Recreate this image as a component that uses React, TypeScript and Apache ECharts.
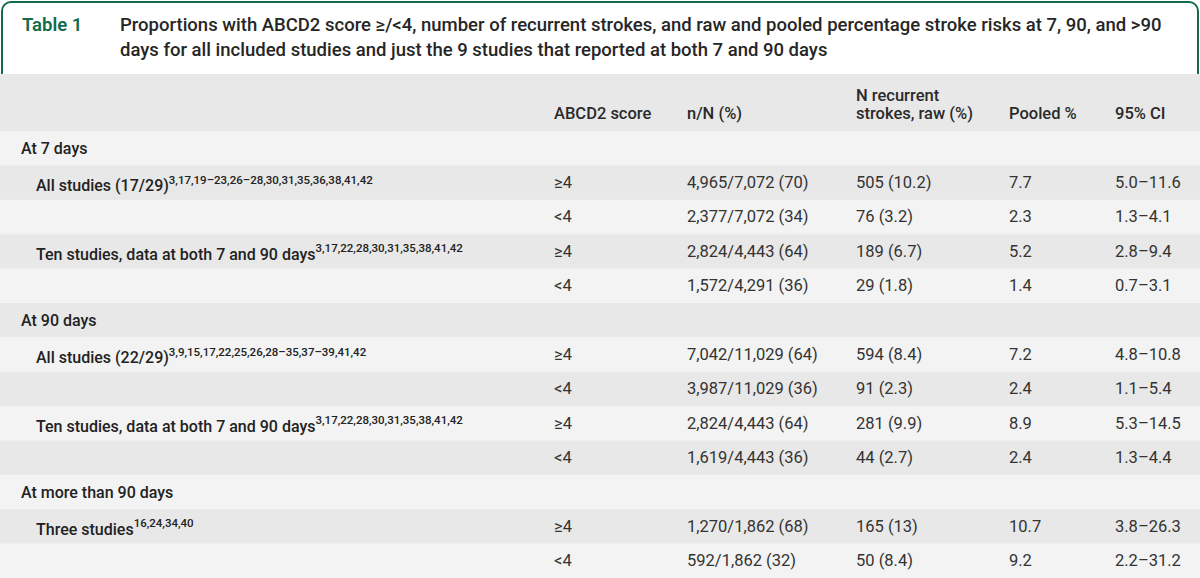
import React, { useEffect, useRef } from "react";
import * as echarts from "echarts";

const tableNumber = "Table 1";
const titleLines = [
  "Proportions with ABCD2 score ≥/<4, number of recurrent strokes, and raw and pooled percentage stroke risks at 7, 90, and >90",
  "days for all included studies and just the 9 studies that reported at both 7 and 90 days",
];
const headerCols = ["ABCD2 score", "n/N (%)", "N recurrent\nstrokes, raw (%)", "Pooled %", "95% CI"];
const sectionTitles = ["At 7 days", "At 90 days", "At more than 90 days"];
const groupLabels = [
  "All studies (17/29)",
  "Ten studies, data at both 7 and 90 days",
  "All studies (22/29)",
  "Ten studies, data at both 7 and 90 days",
  "Three studies",
];
const groupRefs = [
  "3,17,19–23,26–28,30,31,35,36,38,41,42",
  "3,17,22,28,30,31,35,38,41,42",
  "3,9,15,17,22,25,26,28–35,37–39,41,42",
  "3,17,22,28,30,31,35,38,41,42",
  "16,24,34,40",
];
const groupSection = [0, 0, 1, 1, 2];
const scores = ["≥4", "<4", "≥4", "<4", "≥4", "<4", "≥4", "<4", "≥4", "<4"];
const nN = [
  "4,965/7,072 (70)", "2,377/7,072 (34)", "2,824/4,443 (64)", "1,572/4,291 (36)",
  "7,042/11,029 (64)", "3,987/11,029 (36)", "2,824/4,443 (64)", "1,619/4,443 (36)",
  "1,270/1,862 (68)", "592/1,862 (32)",
];
const nRecurrent = [
  "505 (10.2)", "76 (3.2)", "189 (6.7)", "29 (1.8)", "594 (8.4)",
  "91 (2.3)", "281 (9.9)", "44 (2.7)", "165 (13)", "50 (8.4)",
];
const pooled = ["7.7", "2.3", "5.2", "1.4", "7.2", "2.4", "8.9", "2.4", "10.7", "9.2"];
const ci95 = [
  "5.0–11.6", "1.3–4.1", "2.8–9.4", "0.7–3.1", "4.8–10.8",
  "1.1–5.4", "5.3–14.5", "1.3–4.4", "3.8–26.3", "2.2–31.2",
];

const GREEN = "#136b4b";
const DARK = "#e8e8e8";
const LIGHT = "#f2f3f2";
const FONT = "Roboto";
const colX = [554, 687, 856, 1009, 1115];

const txt = (x: number, y: number, text: string, font: string, fill: string) => ({
  type: "text", x, y,
  style: { text, fill, font, align: "left", verticalAlign: "middle", textAlign: "left", textVerticalAlign: "middle" },
});

function buildElements() {
  const els: any[] = [];
  els.push({
    type: "rect",
    shape: { x: 2, y: 2, width: 1196, height: 90, r: [9, 9, 0, 0] },
    style: { fill: "#ffffff", stroke: GREEN, lineWidth: 2 },
  });
  els.push(txt(22, 25, tableNumber, `600 18.5px ${FONT}`, GREEN));
  titleLines.forEach((t, i) => {
    els.push(txt(120, 25 + i * 25, t, `500 18.5px ${FONT}`, "#262626"));
  });
  els.push({ type: "rect", shape: { x: 0, y: 74, width: 1200, height: 57 }, style: { fill: DARK } });
  headerCols.forEach((h, i) => {
    const lines = h.split("\n");
    lines.forEach((ln, j) => {
      const y = lines.length === 1 ? 113 : 95 + j * 18;
      els.push(txt(colX[i], y, ln, `500 16.5px ${FONT}`, "#2a2a2a"));
    });
  });

  type Row = { kind: "section"; s: number } | { kind: "data"; g: number; k: number };
  const rows: Row[] = [];
  let lastSection = -1;
  groupLabels.forEach((_, g) => {
    if (groupSection[g] !== lastSection) {
      lastSection = groupSection[g];
      rows.push({ kind: "section", s: lastSection });
    }
    rows.push({ kind: "data", g, k: 0 });
    rows.push({ kind: "data", g, k: 1 });
  });
  const top = 131;
  const rh = (578 - top) / rows.length;
  rows.forEach((r, i) => {
    const y0 = top + i * rh;
    const cy = y0 + rh / 2;
    els.push({ type: "rect", shape: { x: 0, y: y0, width: 1200, height: rh + 0.5 }, style: { fill: i % 2 === 0 ? LIGHT : DARK } });
    if (r.kind === "section") {
      els.push(txt(21, cy, sectionTitles[r.s], `500 16px ${FONT}`, "#222"));
    } else {
      const idx = r.g * 2 + r.k;
      if (r.k === 0) {
        els.push({
          type: "text", x: 36, y: cy + 1,
          style: {
            text: `{m|${groupLabels[r.g]}}{s|${groupRefs[r.g]}}`,
            fill: "#222", font: `500 16px ${FONT}`,
            align: "left", verticalAlign: "middle", textAlign: "left", textVerticalAlign: "middle",
            rich: {
              m: { fontFamily: FONT, fontSize: 16, fontWeight: 500, fill: "#222", lineHeight: 20, verticalAlign: "bottom" },
              s: { fontFamily: FONT, fontSize: 11.5, fontWeight: 500, fill: "#222", lineHeight: 12, verticalAlign: "top" },
            },
          },
        });
      }
      const vals = [scores[idx], nN[idx], nRecurrent[idx], pooled[idx], ci95[idx]];
      vals.forEach((v, c) => {
        els.push(txt(colX[c], cy, v, `400 16.5px ${FONT}`, "#333"));
      });
    }
  });
  return els;
}

export default function App() {
  const ref = useRef<HTMLDivElement>(null);
  useEffect(() => {
    if (!ref.current) return;
    const chart = echarts.init(ref.current, undefined, { renderer: "svg" });
    chart.setOption({
      animation: false,
      backgroundColor: "#ffffff",
      graphic: { elements: buildElements() },
    });
    return () => chart.dispose();
  }, []);
  return <div ref={ref} style={{ position: "absolute", left: 0, top: 0, width: 1200, height: 578 }} />;
}
